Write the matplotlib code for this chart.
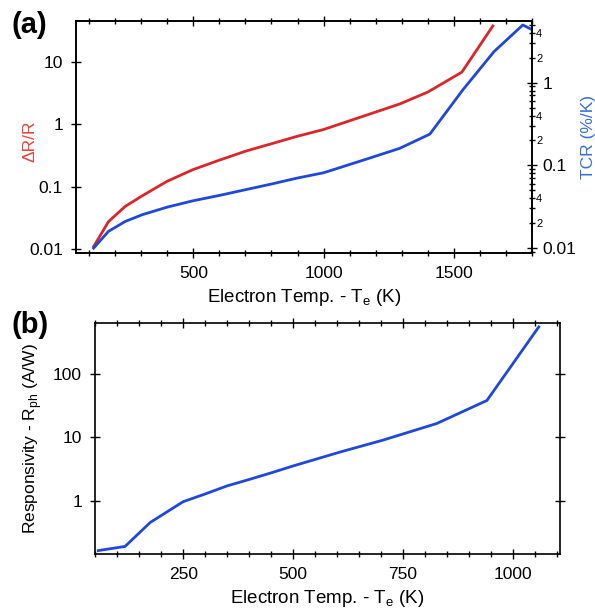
'''
Electron temperature dependence: dR/R, TCR and responsivity
'''

import numpy as np
import matplotlib.pyplot as plt
from matplotlib.ticker import MultipleLocator, LogLocator, FixedLocator, FixedFormatter

plt.rcParams['font.family'] = ['Liberation Sans', 'DejaVu Sans']
plt.rcParams['font.size'] = 12

# (a) data
te_dr = [117, 174, 238, 303, 400, 499, 599, 700, 799, 900, 1000, 1177, 1292, 1400, 1531, 1650]
dr_r = [0.0109, 0.0274, 0.048, 0.0708, 0.122, 0.187, 0.264, 0.368, 0.484, 0.64,
        0.82, 1.45, 2.1, 3.26, 6.8, 37.4]

te_tcr = [117, 174, 238, 303, 400, 499, 599, 700, 799, 900, 1000, 1177, 1292, 1408,
          1535, 1654, 1765, 1800]
tcr = [0.0099, 0.0158, 0.0208, 0.0251, 0.0311, 0.0371, 0.043, 0.0505, 0.0591, 0.070,
       0.081, 0.122, 0.16, 0.238, 0.82, 2.37, 5.0, 4.4]

# (b) data
te_r = [57, 118, 175, 250, 300, 350, 400, 450, 500, 607, 705, 827, 941, 1059]
resp = [0.166, 0.193, 0.459, 0.975, 1.29, 1.73, 2.18, 2.77, 3.56, 5.9, 9.1, 16.6, 38.2, 550]

red = '#d9262b'
blue = '#1f48d6'

fig = plt.figure(figsize=(5.95, 6.15), dpi=100)

tk = dict(direction='inout', length=7, width=1, labelsize=12.5, pad=6)
tkm = dict(direction='inout', length=4, width=1)

# ---- panel (a)
ax = fig.add_axes([0.128, 0.589, 0.766, 0.377])
ax.plot(te_dr, dr_r, color=red, lw=2)
ax.set_yscale('log')
ax.set_xlim(50, 1800)
ax.set_ylim(0.0087, 45)
ax.xaxis.set_major_locator(MultipleLocator(500))
ax.xaxis.set_minor_locator(MultipleLocator(100))
ax.yaxis.set_major_locator(FixedLocator([0.01, 0.1, 1, 10]))
ax.yaxis.set_major_formatter(FixedFormatter(['0.01', '0.1', '1', '10']))
ax.yaxis.set_minor_locator(FixedLocator([]))
ax.tick_params(axis='x', which='major', top=True, **tk)
ax.tick_params(axis='x', which='minor', top=True, **tkm)
ax.tick_params(axis='y', which='major', **tk)
ax.set_xlabel('Electron Temp. - T$_\\mathregular{e}$ (K)', fontsize=13.5, labelpad=4)
ax.set_ylabel('ΔR/R', color='#e2463c', fontsize=12.5)
ax.yaxis.set_label_coords(-0.085, 0.48)
for s in ax.spines.values():
    s.set_linewidth(1.2)

ax2 = ax.twinx()
ax2.plot(te_tcr, tcr, color=blue, lw=2)
ax2.set_yscale('log')
ax2.set_ylim(0.0087, 5.6)
ax2.yaxis.set_major_locator(FixedLocator([0.01, 0.1, 1]))
ax2.yaxis.set_major_formatter(FixedFormatter(['0.01', '0.1', '1']))
ax2.yaxis.set_minor_locator(LogLocator(base=10, subs=np.arange(2, 10)))
minor_vals = [0.02, 0.04, 0.2, 0.4, 2, 4]
ax2.yaxis.set_minor_formatter(plt.FuncFormatter(
    lambda v, p: ('%g' % (v / 10 ** np.floor(np.log10(v) + 1e-9)))
    if any(abs(v - m) / m < 1e-6 for m in minor_vals) else ''))
ax2.tick_params(axis='y', which='major', **dict(tk, pad=4))
ax2.tick_params(axis='y', which='minor', labelsize=8, pad=1, **tkm)
ax2.set_ylabel('TCR (%/K)', color='#3a6fd0', fontsize=12.5)
ax2.yaxis.set_label_coords(1.107, 0.5)
for s in ax2.spines.values():
    s.set_linewidth(1.2)

# ---- panel (b)
bx = fig.add_axes([0.160, 0.099, 0.781, 0.376])
bx.plot(te_r, resp, color=blue, lw=2)
bx.set_yscale('log')
bx.set_xlim(50, 1107)
bx.set_ylim(0.146, 636)
bx.xaxis.set_major_locator(MultipleLocator(250))
bx.xaxis.set_minor_locator(MultipleLocator(50))
bx.yaxis.set_major_locator(FixedLocator([1, 10, 100]))
bx.yaxis.set_major_formatter(FixedFormatter(['1', '10', '100']))
bx.yaxis.set_minor_locator(FixedLocator([]))
bx.tick_params(axis='x', which='major', top=True, **tk)
bx.tick_params(axis='x', which='minor', top=True, **tkm)
bx.tick_params(axis='y', which='major', right=True, **tk)
bx.set_xlabel('Electron Temp. - T$_\\mathregular{e}$ (K)', fontsize=13.5, labelpad=4)
bx.set_ylabel('Responsivity - R$_\\mathregular{ph}$ (A/W)', fontsize=12.5)
bx.yaxis.set_label_coords(-0.11, 0.5)
for s in bx.spines.values():
    s.set_linewidth(1.2)

fig.text(0.02, 0.959, '(a)', fontsize=21, fontweight='bold', va='center')
fig.text(0.02, 0.471, '(b)', fontsize=21, fontweight='bold', va='center')

fig.savefig('out.png', dpi=100)
